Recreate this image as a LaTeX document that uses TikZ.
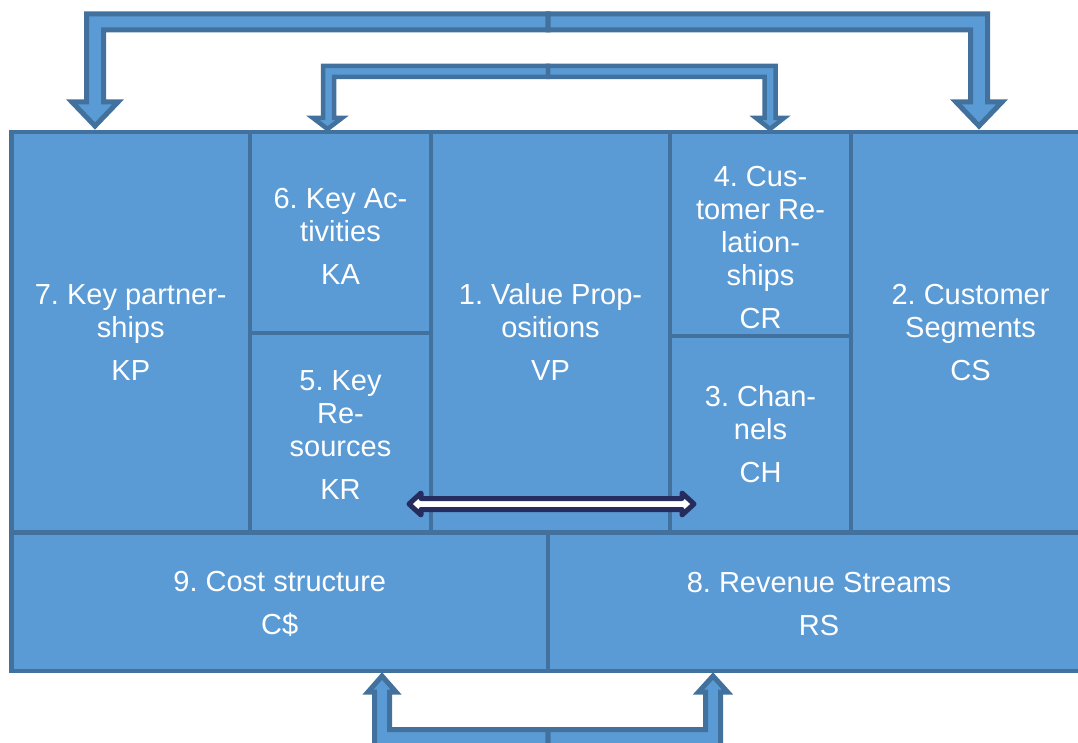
\documentclass[tikz,border=0pt]{standalone}
\usepackage{fontspec}
\setmainfont{Liberation Sans}
\frenchspacing
\usetikzlibrary{positioning,calc}
\definecolor{cellfill}{HTML}{5B9BD5}
\definecolor{cellline}{HTML}{41719C}
\definecolor{navy}{HTML}{262C5E}

\tikzset{
  cell/.style={draw=cellline, fill=cellfill, line width=4.5pt, inner sep=0pt, outer sep=0pt,
    anchor=north west, text=white, align=center, font=\fontsize{29}{33}\selectfont},
  blockarrow/.style={draw=cellline, fill=cellfill, line width=5pt, line join=miter},
  thinarrow/.style={draw=cellline, fill=cellfill, line width=4.5pt, line join=miter},
  twoway/.style={draw=navy, fill=white, line width=5pt, line join=round}
}

\begin{document}
\begin{tikzpicture}[x=1pt, y=-1pt]
\useasboundingbox (0,0) rectangle (1078,743);
\clip (0,0) rectangle (1078,743);
% Feedback arrows on top, split in the middle
\coordinate (split) at (548,0);
\draw[blockarrow] (split |- 0,14) -- (86.5,14) -- (86.5,102) -- (72,102) -- (95,126) -- (118,102)
  -- (103.5,102) -- (103.5,30) -- (split |- 0,30) -- cycle;
\draw[blockarrow] (split |- 0,14) -- (987.5,14) -- (987.5,102) -- (1002,102) -- (979,126) -- (956,102)
  -- (970.5,102) -- (970.5,30) -- (split |- 0,30) -- cycle;
\draw[thinarrow] (split |- 0,66) -- (323,66) -- (323,118) -- (313,118) -- (327.5,129) -- (342,118)
  -- (334,118) -- (334,77) -- (split |- 0,77) -- cycle;
\draw[thinarrow] (split |- 0,66) -- (775.5,66) -- (775.5,118) -- (784,118) -- (770,129) -- (756,118)
  -- (764.5,118) -- (764.5,77) -- (split |- 0,77) -- cycle;
% Bottom arrow
\draw[blockarrow] (split |- 0,746) -- (374.5,746) -- (374.5,692) -- (368,692) -- (382,676) -- (396,692)
  -- (389.5,692) -- (389.5,729.5) -- (split |- 0,729.5) -- cycle;
\draw[blockarrow] (split |- 0,746) -- (720.5,746) -- (720.5,692) -- (727.5,692) -- (713,676) -- (698.5,692)
  -- (705.5,692) -- (705.5,729.5) -- (split |- 0,729.5) -- cycle;
% Canvas blocks
\node[cell, minimum width=238.5pt, minimum height=400.5pt] (kp) at (11.5,132) {7. Key partner-\\ships\\[10pt]KP};
\node[cell, minimum width=181pt, minimum height=201pt] (ka) at (kp.north east) {\rule{0pt}{27pt}6. Key Ac-\\tivities\\[10pt]KA};
\node[cell, minimum width=181pt, minimum height=199.5pt] (kr) at (ka.south west) {\rule{0pt}{25pt}5. Key\\Re-\\sources\\[10pt]KR};
\node[cell, minimum width=239pt, minimum height=400.5pt] (vp) at (ka.north east) {1. Value Prop-\\ositions\\[10pt]VP};
\node[cell, minimum width=181pt, minimum height=204pt] (cr) at (vp.north east) {\rule{0pt}{47pt}4. Cus-\\tomer Re-\\lation-\\ships\\[10pt]CR};
\node[cell, minimum width=181pt, minimum height=196.5pt] (ch) at (cr.south west) {3. Chan-\\nels\\[10pt]CH};
\node[cell, minimum width=239pt, minimum height=400.5pt] (cs) at (cr.north east) {2. Customer\\Segments\\[10pt]CS};
\node[cell, minimum width=536.5pt, minimum height=138.5pt] (cost) at (kp.south west) {\rule{0pt}{25pt}9. Cost structure\\[10pt]C\$};
\node[cell, minimum width=542pt, minimum height=138.5pt] (rev) at (cost.north east) {\rule{0pt}{25pt}8. Revenue Streams\\[10pt]RS};
% Two-way arrow between resources and channels
\coordinate (dl) at (409,504);
\coordinate (dr) at (694,504);
\draw[twoway] (dl) -- ++(12,-11) -- ++(0,5.5) -- ($(dr)+(-12,-5.5)$) -- ++(0,-5.5) -- (dr)
  -- ++(-12,11) -- ++(0,-5.5) -- ($(dl)+(12,5.5)$) -- ++(0,5.5) -- cycle;
\end{tikzpicture}
\end{document}
